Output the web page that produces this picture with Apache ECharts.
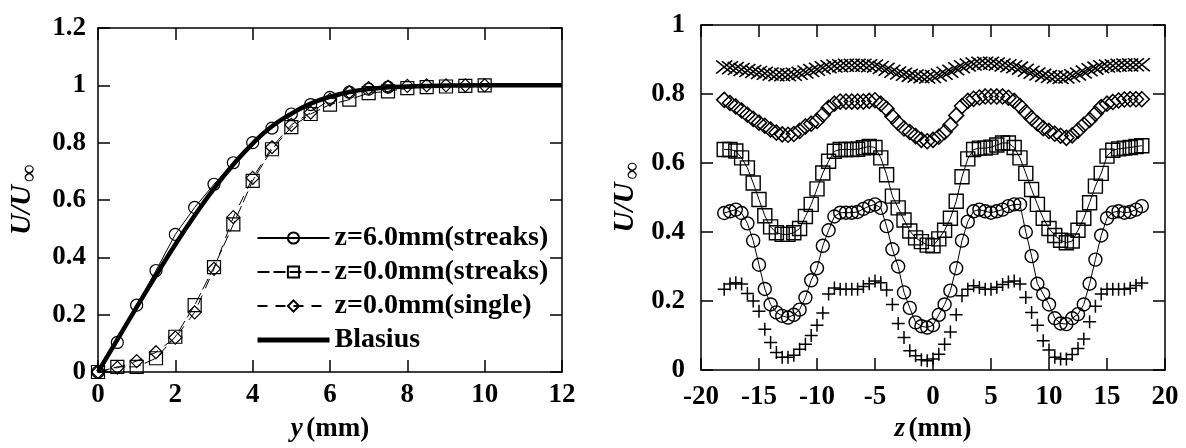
<!DOCTYPE html>
<html><head><meta charset="utf-8">
<script src="https://cdn.jsdelivr.net/npm/echarts@6/dist/echarts.min.js"></script>
<style>html,body{margin:0;padding:0;background:#fff}#c{width:1186px;height:448px}</style>
</head><body><div id="c"></div>
<script>
// ---- Left panel: U/U∞ vs y (mm)
const circleY = [0,0.5,1,1.5,2,2.5,3,3.5,4,4.5,5,5.5,6,6.5,7,7.5];
const circleU = [0,0.103,0.233,0.354,0.48,0.574,0.655,0.73,0.80,0.851,0.90,0.933,0.958,0.976,0.987,0.994];
const squareY = [0,0.5,1,1.5,2,2.5,3,3.5,4,4.5,5,5.5,6,6.5,7,7.5,8,8.5,9,9.5,10];
const squareU = [0,0.018,0.018,0.048,0.123,0.233,0.366,0.515,0.667,0.777,0.854,0.90,0.933,0.95,0.973,0.979,0.99,0.994,0.996,0.998,1.0];
const diamondY = [0,0.5,1,1.5,2,2.5,3,3.5,4,4.5,5,5.5,6,6.5,7,7.5,8,8.5,9,9.5,10];
const diamondU = [0,0.015,0.038,0.069,0.12,0.208,0.36,0.54,0.677,0.784,0.862,0.905,0.95,0.976,0.99,0.995,0.998,1.0,1.0,1.0,1.0];
const blasiusY = [0,0.5,1,1.5,2,2.5,3,3.5,4,4.5,5,5.5,6,6.5,7,7.5,8,8.5,9,10,11,12];
const blasiusU = [0,0.113,0.226,0.337,0.445,0.546,0.640,0.724,0.797,0.857,0.901,0.936,0.960,0.977,0.987,0.993,0.996,0.998,0.999,1.0,1.0,1.0];
const legendNames = ['z=6.0mm(streaks)','z=0.0mm(streaks)','z=0.0mm(single)','Blasius'];

// ---- Right panel: U/U∞ vs z (mm)
const zPos = [-18,-17.5,-17,-16.5,-16,-15.5,-15,-14.5,-14,-13.5,
  -13,-12.5,-12,-11.5,-11,-10.5,-10,-9.5,-9,-8.5,
  -8,-7.5,-7,-6.5,-6,-5.5,-5,-4.5,-4,-3.5,
  -3,-2.5,-2,-1.5,-1,-0.5,0,0.5,1,1.5,
  2,2.5,3,3.5,4,4.5,5,5.5,6,6.5,
  7,7.5,8,8.5,9,9.5,10,10.5,11,11.5,
  12,12.5,13,13.5,14,14.5,15,15.5,16,16.5,
  17,17.5,18];
const crossU = [0.878,0.876,0.874,0.871,0.868,0.865,0.862,0.860,0.858,0.856,
  0.856,0.856,0.857,0.860,0.864,0.868,0.872,0.876,0.879,0.881,
  0.882,0.883,0.883,0.883,0.883,0.882,0.881,0.877,0.872,0.866,
  0.861,0.857,0.854,0.852,0.850,0.849,0.851,0.855,0.860,0.866,
  0.873,0.879,0.884,0.887,0.889,0.889,0.889,0.887,0.884,0.882,
  0.879,0.875,0.869,0.863,0.858,0.854,0.851,0.849,0.848,0.849,
  0.853,0.858,0.864,0.870,0.875,0.879,0.881,0.882,0.883,0.884,
  0.884,0.885,0.885];
const diamU = [0.783,0.774,0.764,0.752,0.740,0.728,0.717,0.708,0.697,0.688,
  0.683,0.682,0.684,0.693,0.706,0.714,0.722,0.740,0.760,0.772,
  0.778,0.778,0.778,0.778,0.778,0.780,0.782,0.772,0.757,0.735,
  0.716,0.700,0.690,0.678,0.667,0.663,0.667,0.676,0.690,0.710,
  0.738,0.765,0.780,0.786,0.790,0.793,0.793,0.793,0.793,0.789,
  0.780,0.765,0.747,0.730,0.715,0.701,0.693,0.685,0.679,0.673,
  0.680,0.694,0.711,0.725,0.743,0.762,0.772,0.777,0.781,0.784,
  0.785,0.785,0.785];
const sqU = [0.639,0.639,0.635,0.615,0.586,0.542,0.494,0.447,0.415,0.398,
  0.393,0.393,0.398,0.410,0.445,0.480,0.525,0.571,0.605,0.634,
  0.639,0.639,0.639,0.640,0.644,0.648,0.645,0.615,0.566,0.504,
  0.470,0.435,0.403,0.383,0.372,0.362,0.360,0.380,0.405,0.440,
  0.489,0.560,0.612,0.639,0.643,0.643,0.646,0.652,0.658,0.658,
  0.645,0.615,0.570,0.523,0.480,0.440,0.410,0.390,0.376,0.369,
  0.374,0.405,0.440,0.485,0.533,0.570,0.620,0.637,0.641,0.643,
  0.645,0.648,0.650];
const circU = [0.455,0.460,0.465,0.455,0.425,0.375,0.305,0.235,0.190,0.167,
  0.157,0.152,0.160,0.175,0.210,0.260,0.295,0.360,0.405,0.445,
  0.456,0.456,0.456,0.458,0.467,0.475,0.480,0.470,0.417,0.350,
  0.300,0.225,0.180,0.138,0.127,0.123,0.130,0.160,0.190,0.230,
  0.295,0.375,0.430,0.460,0.465,0.460,0.456,0.460,0.465,0.475,
  0.480,0.480,0.400,0.330,0.250,0.220,0.190,0.150,0.135,0.133,
  0.150,0.162,0.190,0.250,0.320,0.390,0.440,0.457,0.460,0.456,
  0.458,0.465,0.475];
const plusU = [0.234,0.249,0.253,0.249,0.222,0.200,0.170,0.118,0.080,0.051,
  0.037,0.037,0.043,0.060,0.075,0.100,0.130,0.165,0.220,0.238,
  0.234,0.234,0.234,0.234,0.242,0.250,0.258,0.253,0.232,0.190,
  0.135,0.094,0.056,0.041,0.030,0.027,0.032,0.046,0.075,0.110,
  0.160,0.215,0.234,0.244,0.239,0.234,0.234,0.240,0.248,0.255,
  0.258,0.249,0.210,0.167,0.130,0.085,0.058,0.037,0.032,0.032,
  0.045,0.062,0.090,0.140,0.185,0.220,0.234,0.234,0.234,0.234,
  0.237,0.245,0.252];

const FONT = 'Liberation Serif';
const pair = (xs, ys) => xs.map((x, i) => [x, ys[i]]);
const black = '#000';
const clear = 'rgba(0,0,0,0)';
const X_PATH = 'path://M0,0L10,10M10,0L0,10';
const PLUS_PATH = 'path://M5,0L5,10M0,5L10,5';

const labelStyle = {color: black, fontFamily: FONT, fontWeight: 'bold', fontSize: 27};
function mkX(grid, pos, min, max, interval, show, margin, name, nameGap) {
  return {
    type: 'value', gridIndex: grid, position: pos, min, max, interval,
    axisLine: {show: true, onZero: false, lineStyle: {color: black, width: 1.5}},
    axisTick: {show: true, inside: true, length: 12, lineStyle: {color: black, width: 1.5}},
    axisLabel: Object.assign({show: show, margin: margin}, labelStyle),
    splitLine: {show: false},
    name: name || '', nameLocation: 'middle', nameGap: nameGap || 0,
    nameTextStyle: {rich: {
      i: {fontFamily: FONT, fontWeight: 'bold', fontStyle: 'italic', fontSize: 27, color: black},
      n: {fontFamily: FONT, fontWeight: 'bold', fontSize: 27, color: black}
    }}
  };
}
function mkY(grid, pos, min, max, interval, show, margin, name, nameGap) {
  return {
    type: 'value', gridIndex: grid, position: pos, min, max, interval,
    axisLine: {show: true, onZero: false, lineStyle: {color: black, width: 1.5}},
    axisTick: {show: true, inside: true, length: 12, lineStyle: {color: black, width: 1.5}},
    axisLabel: Object.assign({show: show, margin: margin}, labelStyle),
    splitLine: {show: false},
    name: name || '', nameLocation: 'middle', nameGap: nameGap || 0, nameRotate: 90,
    nameTextStyle: {rich: {
      i: {fontFamily: FONT, fontWeight: 'bold', fontStyle: 'italic', fontSize: 29, color: black},
      s: {fontFamily: FONT, fontWeight: 'bold', fontSize: 24, color: black, padding: [14, 0, 0, 3]}
    }}
  };
}

const option = {
  animation: false,
  backgroundColor: '#fff',
  grid: [
    {left: 98, top: 28, width: 464, height: 354},
    {left: 701, top: 25, width: 464, height: 346}
  ],
  xAxis: [
    mkX(0, 'bottom', 0, 12, 2, true, 10, '{i|y} {n|(mm)}', 44),
    mkX(0, 'top', 0, 12, 2, false, 8),
    mkX(1, 'bottom', -20, 20, 5, true, 14, '{i|z} {n|(mm)}', 46),
    mkX(1, 'top', -20, 20, 5, false, 8)
  ],
  yAxis: [
    mkY(0, 'left', 0, 1.2, 0.2, true, 12, '{i|U/U}{s|∞}', 56),
    mkY(0, 'right', 0, 1.2, 0.2, false, 8),
    mkY(1, 'left', 0, 1, 0.2, true, 16, '{i|U/U}{s|∞}', 56),
    mkY(1, 'right', 0, 1, 0.2, false, 8)
  ],
  legend: {
    data: [
      {name: legendNames[0]},
      {name: legendNames[1]},
      {name: legendNames[2]},
      {name: legendNames[3], itemStyle: {color: clear, borderColor: clear, borderWidth: 0, opacity: 0},
       lineStyle: {color: black, width: 5, opacity: 1}}
    ],
    orient: 'vertical', left: 250, top: 219,
    itemWidth: 72, itemHeight: 14, itemGap: 6,
    textStyle: {color: black, fontFamily: FONT, fontWeight: 'bold', fontSize: 28, lineHeight: 27}
  },
  series: [
    {name: legendNames[0], type: 'line', xAxisIndex: 0, yAxisIndex: 0, data: pair(circleY, circleU),
     symbol: 'circle', symbolSize: 12, itemStyle: {color: clear, borderColor: black, borderWidth: 1.2},
     lineStyle: {color: black, width: 1}},
    {name: legendNames[1], type: 'line', xAxisIndex: 0, yAxisIndex: 0, data: pair(squareY, squareU),
     symbol: 'rect', symbolSize: 13, itemStyle: {color: clear, borderColor: black, borderWidth: 1.2},
     lineStyle: {color: black, width: 1, type: [12, 4]}},
    {name: legendNames[2], type: 'line', xAxisIndex: 0, yAxisIndex: 0, data: pair(diamondY, diamondU),
     symbol: 'diamond', symbolSize: 13, itemStyle: {color: clear, borderColor: black, borderWidth: 1.2},
     lineStyle: {color: black, width: 1, type: [10, 8]}},
    {name: legendNames[3], type: 'line', xAxisIndex: 0, yAxisIndex: 0, data: pair(blasiusY, blasiusU),
     symbol: 'none', smooth: true, lineStyle: {color: black, width: 4.5}, itemStyle: {color: black}},

    {name: 'r-cross', type: 'line', xAxisIndex: 2, yAxisIndex: 2, data: pair(zPos, crossU),
     symbol: X_PATH, symbolSize: [16, 13], itemStyle: {color: clear, borderColor: black, borderWidth: 1.6},
     lineStyle: {width: 0, opacity: 0}},
    {name: 'r-diamond', type: 'line', xAxisIndex: 2, yAxisIndex: 2, data: pair(zPos, diamU),
     symbol: 'diamond', symbolSize: 15, itemStyle: {color: clear, borderColor: black, borderWidth: 1.5},
     lineStyle: {width: 0, opacity: 0}},
    {name: 'r-square', type: 'line', xAxisIndex: 2, yAxisIndex: 2, data: pair(zPos, sqU),
     symbol: 'rect', symbolSize: 14, itemStyle: {color: clear, borderColor: black, borderWidth: 1.4},
     lineStyle: {color: black, width: 1}},
    {name: 'r-circle', type: 'line', xAxisIndex: 2, yAxisIndex: 2, data: pair(zPos, circU),
     symbol: 'circle', symbolSize: 13, itemStyle: {color: clear, borderColor: black, borderWidth: 1.4},
     lineStyle: {color: black, width: 1}},
    {name: 'r-plus', type: 'line', xAxisIndex: 2, yAxisIndex: 2, data: pair(zPos, plusU),
     symbol: PLUS_PATH, symbolSize: 13, itemStyle: {color: clear, borderColor: black, borderWidth: 1.5},
     lineStyle: {width: 0, opacity: 0}}
  ]
};
const chart = echarts.init(document.getElementById('c'), null, {renderer: 'canvas'});
chart.setOption(option);
</script></body></html>
